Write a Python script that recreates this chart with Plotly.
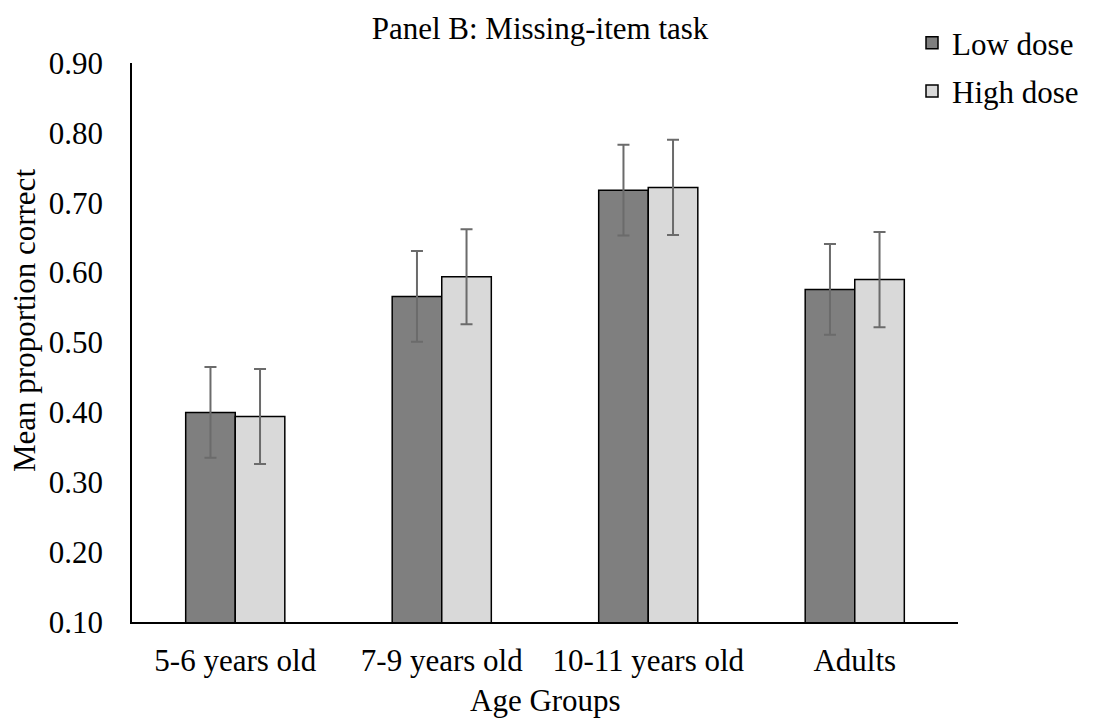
import plotly.graph_objects as go

categories = ["5-6 years old", "7-9 years old", "10-11 years old", "Adults"]
low_dose = [0.400, 0.566, 0.718, 0.576]
high_dose = [0.394, 0.594, 0.722, 0.590]
low_err = [0.065, 0.065, 0.065, 0.065]
high_err = [0.068, 0.068, 0.068, 0.068]
y_ticks = [0.10, 0.20, 0.30, 0.40, 0.50, 0.60, 0.70, 0.80, 0.90]

FONT = "Liberation Serif, Times New Roman, serif"
W, H = 1093, 722
L, R, T, B = 132, 135, 63, 100
PW, PH = W - L - R, H - T - B

fig = go.Figure()
fig.add_trace(go.Bar(
    name="Low dose", x=categories, y=low_dose, legendgroup="a",
    marker=dict(color="#7f7f7f", line=dict(color="#000000", width=1.5)),
    error_y=dict(type="data", array=low_err, color="#6b6b6b", thickness=2, width=6),
))
fig.add_trace(go.Bar(
    name="High dose", x=categories, y=high_dose, legendgroup="b",
    marker=dict(color="#d9d9d9", line=dict(color="#000000", width=1.5)),
    error_y=dict(type="data", array=high_err, color="#6b6b6b", thickness=2, width=6),
))

fig.update_layout(
    width=W, height=H,
    margin=dict(l=L, r=R, t=T, b=B, pad=0, autoexpand=False),
    paper_bgcolor="white", plot_bgcolor="white",
    barmode="group", bargap=0.52, bargroupgap=0,
    font=dict(family=FONT, size=31, color="#000000"),
    title=dict(text="Panel B: Missing-item task", font=dict(size=31),
               x=(540 - L) / PW, xref="paper", xanchor="center",
               y=1 - 28 / H, yref="container", yanchor="middle"),
    showlegend=True,
    legend=dict(x=912 / W, y=1 - 16 / H, xref="container", yref="container",
                xanchor="left", yanchor="top", font=dict(size=31),
                traceorder="grouped", tracegroupgap=5,
                bgcolor="rgba(0,0,0,0)"),
    xaxis=dict(showline=True, linecolor="#000000", linewidth=1.5,
               showgrid=False, ticks="", tickfont=dict(size=31),
               ticklabelstandoff=10, range=[-0.5, 3.5]),
    yaxis=dict(showline=True, linecolor="#000000", linewidth=1.5,
               showgrid=False, zeroline=False, ticks="", range=[0.10, 0.90],
               tickvals=y_ticks, ticktext=[f"{v:.2f}" for v in y_ticks],
               tickfont=dict(size=31), ticklabelstandoff=21),
)
fig.add_annotation(text="Mean proportion correct", textangle=-90,
                   xref="paper", yref="paper", x=-(L - 24) / PW,
                   y=(H - B - 321) / PH,
                   xanchor="center", yanchor="middle", showarrow=False,
                   font=dict(size=31))
fig.add_annotation(text="Age Groups", xref="paper", yref="paper",
                   x=0.5, y=-(700 - (H - B)) / PH,
                   xanchor="center", yanchor="middle", showarrow=False,
                   font=dict(size=31))

fig.write_html("out.html")
